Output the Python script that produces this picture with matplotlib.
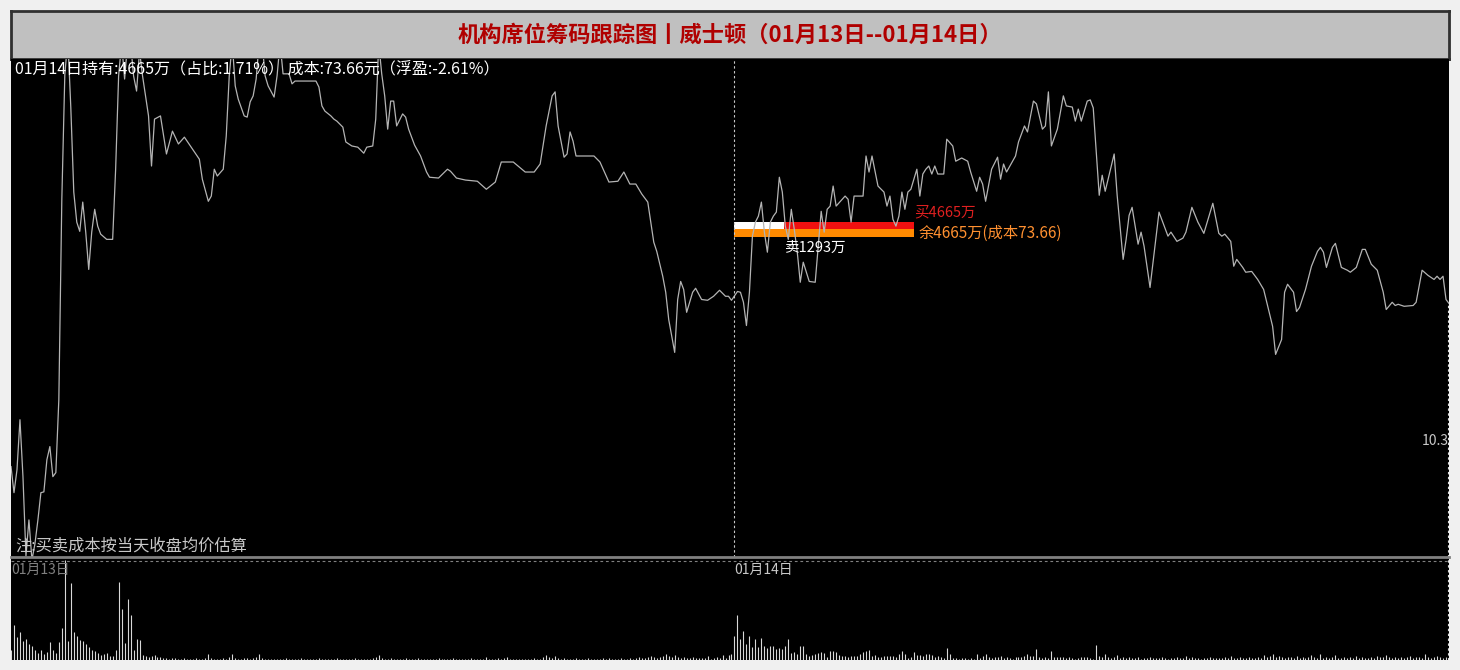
# chip tracking chart: intraday price line + volume, two sessions
import matplotlib.pyplot as plt

plt.rcParams['font.family'] = ['Noto Sans CJK SC', 'DejaVu Sans']

# ---- data ----
title = "机构席位筹码跟踪图丨威士顿（01月13日--01月14日）"
days = ["01月13日", "01月14日"]
hold_text = "01月14日持有:4665万（占比:1.71%） 成本:73.66元（浮盈:-2.61%）"
note_text = "注:买卖成本按当天收盘均价估算"

# price line vertices (minute index, price)
price_min = [
    0, 1, 2, 3, 4, 5, 6, 7, 8, 9, 10, 11, 12, 13, 14, 15, 16, 17, 18, 19,
    20, 21, 22, 23, 24, 25, 26, 27, 28, 29, 30, 32, 34, 35, 36, 37, 38, 39, 40, 41,
    42, 43, 44, 46, 47, 48, 50, 52, 54, 56, 58, 60, 63, 64, 66, 67, 68, 69, 71, 72,
    73, 74, 75, 76, 78, 79, 80, 81, 82, 83, 84, 85, 86, 88, 89, 90, 91, 93, 94, 95,
    102, 103, 104, 105, 107, 108, 109, 111, 112, 114, 116, 118, 119, 121, 122, 123, 124, 125, 126, 127,
    128, 129, 131, 132, 133, 135, 137, 139, 140, 143, 146, 147, 149, 152, 156, 159, 162, 164, 168, 172,
    175, 177, 179, 181, 182, 183, 185, 186, 187, 188, 189, 195, 197, 200, 203, 205, 207, 209, 211, 213,
    215, 216, 218, 219, 220, 222, 223, 224, 225, 226, 228, 229, 231, 233, 235, 237, 239, 240, 241,
    243, 244, 245, 246, 247, 248, 249, 250, 251, 252, 253, 254, 255, 256, 257, 258, 259, 260, 261, 262,
    263, 264, 265, 267, 269, 270, 271, 272, 273, 274, 275, 276, 279, 280, 281, 282, 285, 286, 287, 288,
    290, 292, 293, 294, 295, 296, 297, 298, 299, 300, 301, 303, 304, 305, 306, 307, 308, 309, 310, 312,
    313, 315, 316, 318, 320, 321, 323, 324, 325, 326, 328, 330, 331, 332, 333, 336, 337, 339, 340, 342,
    343, 345, 346, 347, 348, 350, 352, 353, 355, 356, 357, 358, 360, 361, 362, 363, 364, 365, 366, 369,
    370, 371, 372, 373, 374, 375, 377, 378, 379, 381, 382, 384, 387, 388, 390, 392, 393, 395, 397, 399,
    402, 404, 405, 406, 408, 409, 410, 412, 413, 415, 417, 419, 422, 423, 425, 426, 427, 429, 430, 431,
    433, 435, 437, 438, 439, 440, 442, 443, 445, 447, 448, 450, 452, 453, 455, 457, 459, 460, 462, 463,
    464, 466, 469, 470, 472, 474, 476, 477, 478, 479, 480, 481,
]
price_val = [
    67.83, 67.18, 67.75, 69.00, 67.58, 65.60, 66.50, 65.50, 65.90, 66.50, 67.18, 67.20, 68.00, 68.33, 67.58, 67.68, 69.50, 74.50, 77.60, 78.50,
    76.80, 74.68, 73.93, 73.70, 74.43, 73.68, 72.75, 73.68, 74.25, 73.83, 73.63, 73.50, 73.50, 75.25, 77.58, 78.40, 77.50, 78.40, 78.40, 77.58,
    77.20, 78.20, 77.58, 76.58, 75.33, 76.50, 76.58, 75.63, 76.20, 75.88, 76.05, 75.83, 75.50, 75.00, 74.45, 74.58, 75.25, 75.08, 75.25, 76.08,
    77.58, 78.40, 77.33, 77.00, 76.58, 76.55, 76.93, 77.08, 77.50, 78.40, 78.40, 77.58, 77.33, 77.05, 77.58, 78.40, 77.63, 77.63, 77.38, 77.45,
    77.45, 77.30, 76.83, 76.70, 76.58, 76.50, 76.45, 76.30, 75.93, 75.83, 75.80, 75.65, 75.80, 75.83, 76.50, 78.40, 77.63, 77.08, 76.25, 76.95,
    76.95, 76.33, 76.63, 76.55, 76.25, 75.85, 75.58, 75.18, 75.05, 75.03, 75.25, 75.20, 75.03, 74.98, 74.95, 74.75, 74.93, 75.43, 75.43, 75.18,
    75.18, 75.38, 76.33, 77.08, 77.18, 76.33, 75.55, 75.63, 76.18, 75.95, 75.58, 75.58, 75.43, 74.93, 74.95, 75.18, 74.88, 74.88, 74.63, 74.43,
    73.43, 73.20, 72.58, 72.18, 71.50, 70.68, 72.00, 72.45, 72.25, 71.68, 72.18, 72.28, 72.00, 71.98, 72.08, 72.23, 72.08, 72.08, 71.98,
    72.20, 72.18, 71.93, 71.35, 72.18, 73.58, 73.93, 74.08, 74.43, 73.68, 73.18, 73.93, 74.08, 74.18, 75.05, 74.68, 73.83, 73.50, 74.25, 73.75,
    73.18, 72.43, 72.93, 72.45, 72.43, 73.33, 74.20, 73.68, 74.25, 74.33, 74.83, 74.33, 74.58, 74.50, 73.93, 74.58, 74.58, 75.58, 75.18, 75.58,
    74.83, 74.68, 74.33, 74.58, 74.00, 73.83, 74.08, 74.68, 74.25, 74.68, 74.75, 75.25, 74.58, 75.13, 75.25, 75.33, 75.13, 75.33, 75.13, 75.13,
    76.00, 75.83, 75.45, 75.53, 75.45, 75.18, 74.70, 75.05, 74.88, 74.45, 75.25, 75.55, 75.00, 75.38, 75.18, 75.58, 75.93, 76.33, 76.18, 76.95,
    76.88, 76.25, 76.33, 77.18, 75.83, 76.25, 77.08, 76.83, 76.80, 76.45, 76.75, 76.45, 76.95, 76.98, 76.78, 75.68, 74.60, 75.10, 74.70, 75.63,
    74.60, 73.80, 73.00, 73.50, 74.10, 74.30, 73.38, 73.68, 73.33, 72.30, 72.93, 74.18, 73.58, 73.68, 73.45, 73.53, 73.68, 74.30, 73.93, 73.65,
    74.40, 73.65, 73.58, 73.63, 73.45, 72.83, 73.00, 72.80, 72.68, 72.70, 72.50, 72.25, 71.33, 70.63, 71.00, 72.18, 72.38, 72.18, 71.70, 71.80,
    72.25, 72.83, 73.20, 73.30, 73.18, 72.80, 73.30, 73.40, 72.80, 72.73, 72.68, 72.80, 73.25, 73.25, 72.88, 72.73, 72.18, 71.75, 71.93, 71.85,
    71.88, 71.83, 71.85, 71.93, 72.73, 72.60, 72.50, 72.58, 72.50, 72.58, 72.00, 71.90,
]

# per-minute volume, day 1 (242 bars) and day 2 (240 bars)
vol_day1 = [
    10, 35, 23, 28, 19, 21, 16, 14, 10, 7, 10, 6, 8, 18, 10, 7, 18, 32, 100, 19,
    77, 28, 24, 20, 19, 16, 13, 10, 9, 7, 5, 6, 7, 4, 4, 10, 78, 51, 17, 61,
    45, 10, 21, 20, 5, 4, 3, 4, 5, 3, 3,
    2, 2, 1, 2, 2, 1, 1, 2, 1, 1,
    1, 2, 1, 1, 2, 6, 2, 1, 1, 1,
    2, 1, 3, 6, 2, 1, 1, 2, 2, 1,
    2, 3, 6, 2, 1, 1, 1, 1, 1, 1,
    1, 2, 1, 1, 1, 1, 2, 1, 1, 1,
    1, 1, 2, 1, 1, 1, 1, 1, 2, 1,
    1, 1, 1, 1, 2, 1, 1, 1, 1, 1,
    2, 3, 5, 2, 1, 1, 2, 1, 1, 1,
    1, 2, 1, 1, 1, 2, 1, 1, 1, 1,
    1, 1, 2, 1, 1, 1, 1, 2, 1, 1,
    1, 1, 1, 2, 1, 1, 1, 1, 3, 1,
    1, 1, 2, 1, 2, 3, 1, 1, 1, 1,
    1, 1, 1, 1, 2, 1, 1, 3, 5, 3,
    2, 4, 2, 1, 2, 1, 1, 1, 2, 1,
    1, 1, 2, 1, 1, 1, 1, 2, 1, 2,
    1, 1, 1, 2, 1, 1, 2, 1, 2, 3,
    2, 2, 3, 4, 3, 2, 3, 4, 6, 4,
    3, 5, 3, 2, 3, 2, 2, 3, 2, 2,
    2, 2, 4, 1, 2, 3, 2, 5, 2, 5, 6,
]
vol_day2 = [
    24, 45, 21, 29, 16, 24, 13, 21, 13, 22,
    14, 12, 14, 14, 11, 12, 11, 14, 21, 7,
    8, 6, 14, 14, 6, 4, 5, 6, 7, 8,
    7, 3, 9, 9, 8, 5, 4, 4, 3, 4,
    4, 4, 6, 8, 9, 10, 4, 5, 3, 3,
    4, 4, 4, 4, 3, 6, 9, 6, 2, 3,
    8, 5, 5, 4, 6, 6, 5, 3, 4, 3,
    2, 12, 6, 2, 2, 1, 2, 2, 1, 2,
    1, 6, 2, 4, 6, 3, 2, 3, 3, 4,
    2, 3, 2, 1, 3, 3, 3, 4, 6, 4,
    4, 11, 3, 2, 3, 2, 9, 3, 3, 3,
    3, 2, 3, 2, 1, 2, 3, 3, 3, 2,
    1, 15,
    4, 3, 6, 3, 2, 3, 5, 2, 3, 2,
    3, 2, 2, 3, 1, 2, 2, 3, 2, 2,
    2, 3, 2, 1, 2, 2, 3, 2, 2, 4,
    2, 3, 2, 2, 1, 2, 2, 3, 2, 2,
    2, 2, 3, 2, 4, 2, 2, 3, 2, 2,
    3, 2, 2, 3, 2, 5, 3, 4, 6, 3,
    4, 3, 2, 3, 3, 2, 4, 2, 3, 2,
    3, 5, 3, 2, 6, 2, 3, 2, 3, 5,
    2, 2, 3, 2, 3, 2, 4, 2, 3, 2,
    2, 3, 2, 4, 3, 3, 5, 3, 2, 3,
    2, 3, 2, 3, 4, 2, 3, 3, 2, 6,
    3, 2, 3, 4, 3, 2, 3, 11,
]
volume = vol_day1 + vol_day2
minutes = list(range(len(volume)))

buy_amt = 4665      # 万
sell_amt = 1293     # 万
left_amt = 4665     # 万
cost = 73.66
side_label = "10.3"

# ---- layout helpers (pixel boxes in a 1460x670 canvas) ----
W, H = 1460, 670
def box(x0, y0, x1, y1):
    return [x0 / W, 1 - y1 / H, (x1 - x0) / W, (y1 - y0) / H]

day2_start = len(vol_day1)
last_min = len(volume) - 1
bar_scale = 60 / buy_amt   # minutes of width per 万

fig = plt.figure(figsize=(14.6, 6.7), dpi=100, facecolor='#F0F0F0')

# title bar
tax = fig.add_axes(box(11, 11, 1449, 59))
tax.set_facecolor('#C0C0C0')
tax.set_xticks([])
tax.set_yticks([])
for s in tax.spines.values():
    s.set_color('#303030')
    s.set_linewidth(2)
tax.text(0.5, 0.5, title, ha='center', va='center', color='#B00000',
         fontsize=16, fontweight='bold', transform=tax.transAxes)

# price panel
ax = fig.add_axes(box(11, 59, 1449, 557))
ax.set_facecolor('black')
ax.set_xlim(0, last_min)
ax.set_ylim(65.575, 78.0)
ax.set_xticks([])
ax.set_yticks([])
for s in ax.spines.values():
    s.set_visible(False)

ax.plot(price_min, price_val, color='#B4B4B4', lw=0.9)

# day separator and last-bar crosshair
ax.axvline(day2_start, color='#C8C8C8', lw=0.8, ls=(0, (2.2, 2.2)))
ax.vlines(last_min - 0.2, 65.575, price_val[-1], color='#E0E0E0', lw=0.8,
          ls=(0, (2.2, 2.2)))

# chip bars
ax.barh(cost, left_amt * bar_scale, left=day2_start, height=0.18,
        color='#FF8A00')
ax.barh(cost + 0.19, buy_amt * bar_scale, left=day2_start, height=0.16,
        color='#F01010')
ax.barh(cost + 0.19, sell_amt * bar_scale, left=day2_start, height=0.16,
        color='white')

bar_end = day2_start + buy_amt * bar_scale
ax.text(bar_end, cost + 0.5, f"买{buy_amt}万", color='#E02020', fontsize=10.5,
        va='center', ha='left')
ax.text(bar_end + 1.5, cost, f"余{left_amt}万(成本{cost:.2f})", color='#FF9030',
        fontsize=11, va='center', ha='left')
ax.text(day2_start + sell_amt * bar_scale, cost - 0.38, f"卖{sell_amt}万",
        color='white', fontsize=10.5, va='center', ha='left')

ax.text(0.003, 0.997, hold_text, transform=ax.transAxes, color='white',
        fontsize=11.5, va='top', ha='left')
ax.text(0.003, 0.005, note_text, transform=ax.transAxes, color='#C8C8C8',
        fontsize=11.7, va='bottom', ha='left')
ax.text(1.0, 68.48, side_label, transform=ax.get_yaxis_transform(),
        color='#C8C8C8', fontsize=10, va='center', ha='right')

# volume panel
vax = fig.add_axes(box(11, 557, 1449, 660))
vax.set_facecolor('black')
vax.set_xlim(0, last_min)
vax.set_ylim(0, 103)
vax.set_xticks([])
vax.set_yticks([])
for s in vax.spines.values():
    s.set_visible(False)
vax.spines['top'].set_visible(True)
vax.spines['top'].set_color('#808080')
vax.spines['top'].set_linewidth(2)

vax.axhline(99, color='#808080', lw=0.8, ls=(0, (2.5, 2.5)))
vax.vlines(minutes, 0, volume, color='#D8D8D8', lw=0.8)
vax.axvline(last_min - 0.2, color='#E0E0E0', lw=0.8, ls=(0, (2.2, 2.2)))

vax.text(0, 97, days[0], color='#808080', fontsize=10, va='top', ha='left')
vax.text(day2_start, 97, days[1], color='#C8C8C8', fontsize=10, va='top',
         ha='left')

fig.savefig('out.png', dpi=100, facecolor=fig.get_facecolor())
